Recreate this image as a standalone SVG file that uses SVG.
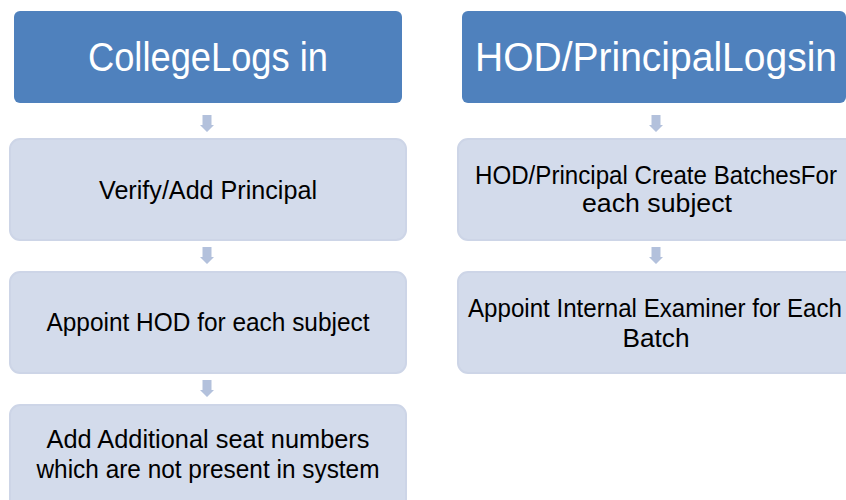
<svg xmlns="http://www.w3.org/2000/svg" width="846" height="500" viewBox="0 0 846 500">
<style>
.hdr{fill:#4f81bd}
.box{fill:#d3dbeb;stroke:#cdd5e7;stroke-width:2}
.arr{fill:#b3c1dc}
.ht{font-family:"Liberation Sans",Arial,sans-serif;font-size:41px;fill:#ffffff;text-anchor:middle}
.bt{font-family:"Liberation Sans",Arial,sans-serif;font-size:25px;fill:#000000;text-anchor:middle}
</style>
<defs>
<path id="dn" d="M-4.5,0 H4.5 V10 H7 L0,17 L-7,10 H-4.5 Z"/>
</defs>
<g id="college-logs-in">
<rect class="hdr" x="14" y="11" width="388" height="92" rx="6"/>
<text class="ht" x="208" y="71" textLength="240" lengthAdjust="spacingAndGlyphs">CollegeLogs in</text>
</g>
<g id="verify-add-principal">
<rect class="box" x="10" y="139" width="396" height="101" rx="10"/>
<text class="bt" x="208" y="199" textLength="218" lengthAdjust="spacingAndGlyphs">Verify/Add Principal</text>
</g>
<g id="appoint-hod">
<rect class="box" x="10" y="272" width="396" height="101" rx="10"/>
<text class="bt" x="208" y="331" textLength="323" lengthAdjust="spacingAndGlyphs">Appoint HOD for each subject</text>
</g>
<g id="add-seat-numbers">
<rect class="box" x="10" y="405" width="396" height="110" rx="10"/>
<text class="bt" x="208" y="448" textLength="323" lengthAdjust="spacingAndGlyphs">Add Additional seat numbers</text>
<text class="bt" x="208" y="478" textLength="343" lengthAdjust="spacingAndGlyphs">which are not present in system</text>
</g>
<g id="hod-principal-logs-in">
<rect class="hdr" x="462" y="11" width="384" height="92" rx="6"/>
<text class="ht" x="656" y="71" textLength="362" lengthAdjust="spacingAndGlyphs">HOD/PrincipalLogsin</text>
</g>
<g id="create-batches">
<rect class="box" x="458" y="139" width="400" height="101" rx="10"/>
<text class="bt" x="656" y="184" textLength="362" lengthAdjust="spacingAndGlyphs">HOD/Principal Create BatchesFor</text>
<text class="bt" x="657" y="212" textLength="150" lengthAdjust="spacingAndGlyphs">each subject</text>
</g>
<g id="appoint-internal-examiner">
<rect class="box" x="458" y="272" width="400" height="101" rx="10"/>
<text class="bt" x="655" y="317" textLength="374" lengthAdjust="spacingAndGlyphs">Appoint Internal Examiner for Each</text>
<text class="bt" x="656" y="347" textLength="67" lengthAdjust="spacingAndGlyphs">Batch</text>
</g>
<g id="connectors">
<use href="#dn" class="arr" x="207" y="115"/>
<use href="#dn" class="arr" x="207" y="247"/>
<use href="#dn" class="arr" x="207" y="380"/>
<use href="#dn" class="arr" x="656" y="115"/>
<use href="#dn" class="arr" x="656" y="247"/>
</g>
</svg>
